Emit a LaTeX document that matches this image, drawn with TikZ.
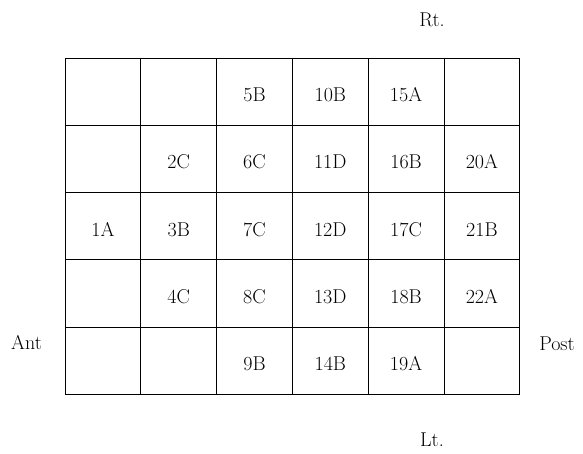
\documentclass[tikz,border=0pt]{standalone}
\usepackage{fontspec}
\usepackage{tikz}
\usetikzlibrary{positioning}

\begin{document}
\begin{tikzpicture}[x=1pt, y=-1pt, font=\fontsize{20}{24}\selectfont]
  \useasboundingbox (0,0) rectangle (583,454);
  \tikzset{
    cell/.style={draw, line width=0.9pt, minimum width=75.8pt, minimum height=67.2pt,
      inner sep=0pt, text height=19.5pt, text depth=0pt},
    side/.style={inner sep=0pt, text depth=0pt}
  }

  % grid of cells, row by row
  \foreach \txt [count=\c] in {{},{},5B,10B,15A,{}} {\node[cell] (r1c\c) at ({65+75.8*(\c-0.5)},91.9) {\txt};}
  \foreach \txt [count=\c] in {{},2C,6C,11D,16B,20A} {\node[cell] (r2c\c) at ({65+75.8*(\c-0.5)},159.1) {\txt};}
  \foreach \txt [count=\c] in {1A,3B,7C,12D,17C,21B} {\node[cell] (r3c\c) at ({65+75.8*(\c-0.5)},226.3) {\txt};}
  \foreach \txt [count=\c] in {{},4C,8C,13D,18B,22A} {\node[cell] (r4c\c) at ({65+75.8*(\c-0.5)},293.5) {\txt};}
  \foreach \txt [count=\c] in {{},{},9B,14B,19A,{}} {\node[cell] (r5c\c) at ({65+75.8*(\c-0.5)},360.7) {\txt};}

  % orientation labels
  \node[side] (rt) at (432,20) {Rt.};
  \node[side] (lt) at (432,440) {Lt.};
  \node[side] (ant) at (26.5,342) {Ant};
  \node[side] (post) at (557,343.5) {Post};
\end{tikzpicture}
\end{document}
